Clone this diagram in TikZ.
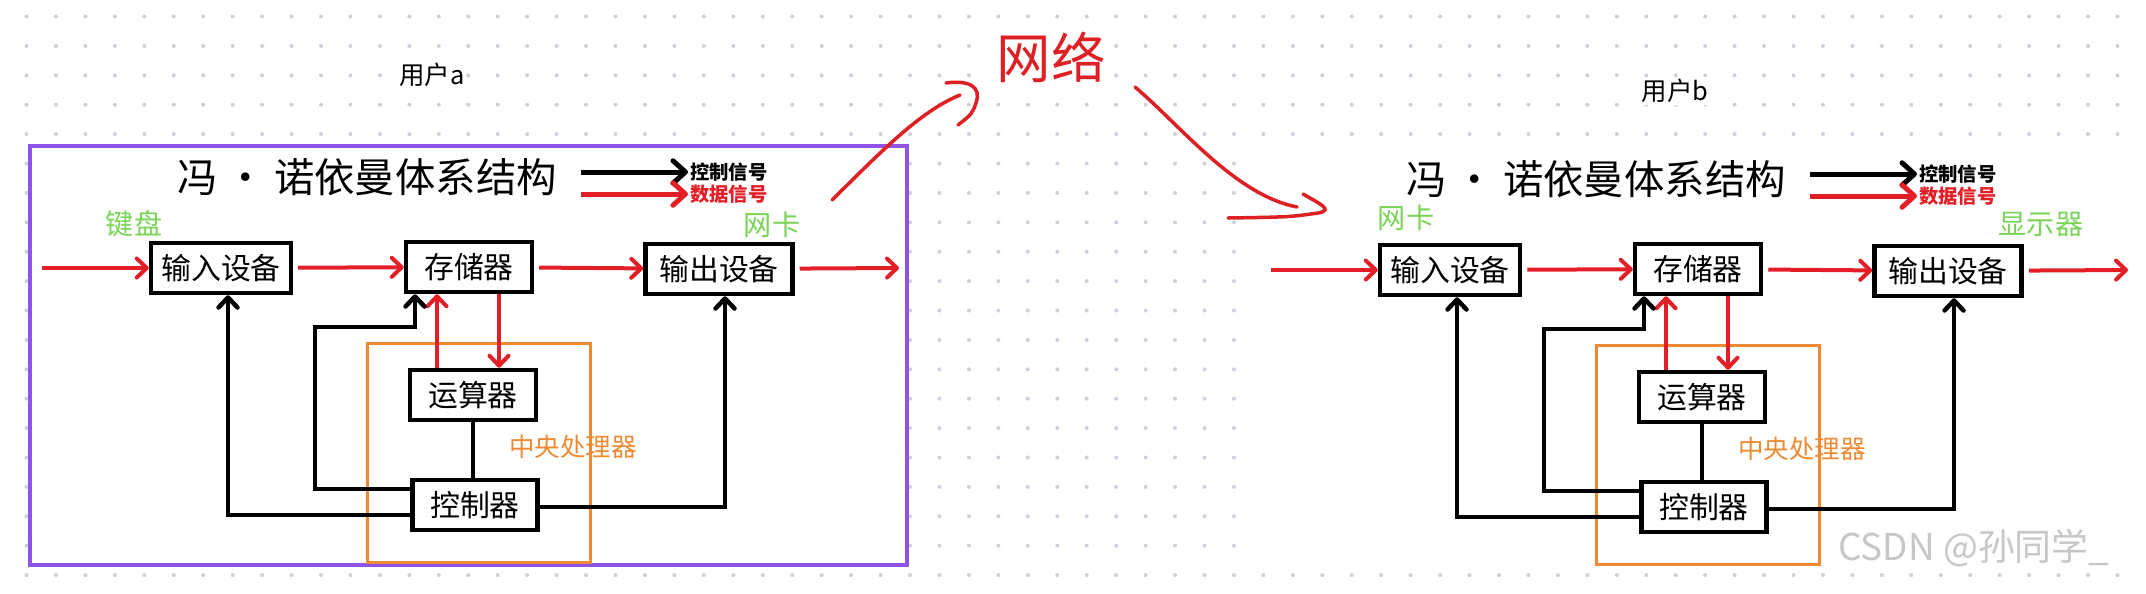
\documentclass[tikz,border=0pt]{standalone}
\usepackage{fontspec}
\setmainfont{Noto Sans CJK SC}
\usetikzlibrary{arrows.meta,positioning}

\definecolor{datared}{RGB}{228,30,38}
\definecolor{inkred}{RGB}{222,32,36}
\definecolor{pengreen}{RGB}{122,212,88}
\definecolor{cpuorange}{RGB}{240,138,50}
\definecolor{framepurple}{RGB}{142,84,233}
\definecolor{dotgray}{RGB}{204,208,218}

\tikzset{
  vn/unit/.style={draw, line width=0.09cm, minimum height=1cm, inner sep=0pt, fill=white, font=\fontsize{17pt}{17pt}\selectfont},
  vn/title/.style={inner sep=0pt, font=\fontsize{23pt}{23pt}\selectfont},
  vn/legend/.style={inner sep=1pt, font=\bfseries\fontsize{11pt}{11pt}\selectfont},
  vn/data/.style={draw=datared, line width=0.08cm, shorten <=0.1cm, -{Straight Barb[length=0.2cm, width=0.38cm, round]}},
  vn/ctrl/.style={draw=black, line width=0.09cm, -{Straight Barb[length=0.2cm, width=0.38cm, round]}},
  vn/legarrow/.style={line width=0.1cm, shorten <=0pt, -{Straight Barb[length=0.25cm, width=0.45cm, round]}},
  vn/link/.style={draw=black, line width=0.09cm},
  vn/cpu/.style={draw=cpuorange, line width=0.06cm},
  vn/cpulabel/.style={text=cpuorange, inner sep=0pt, font=\fontsize{14.5pt}{14.5pt}\selectfont},
  vn/frame/.style={draw=framepurple, line width=0.07cm},
  vn/device/.style={text=pengreen, inner sep=0pt, font=\fontsize{16pt}{16pt}\selectfont},
  vn/user/.style={fill=white, inner sep=1pt, font=\fontsize{14.5pt}{14.5pt}\selectfont},
  vn/net/.style={text=inkred, fill=white, inner sep=1pt, font=\fontsize{31pt}{31pt}\selectfont},
  vn/pen/.style={draw=inkred, line width=0.07cm, line cap=round},
  vn/wmark/.style={text=black!22, inner sep=0pt, font=\fontsize{21pt}{21pt}\selectfont}
}

\begin{document}
\begin{tikzpicture}[x=0.02cm, y=-0.02cm]
  \useasboundingbox (0,0) rectangle (2146,593);

  % dotted canvas, blanked where the two pasted diagrams sit
  \foreach \i in {0,...,71}
    \foreach \j in {0,...,19}
      \fill[dotgray] (26.5+29.45*\i, 16.5+29.4*\j) circle (0.04cm);
  \fill[white] (29,139) rectangle (908,572);
  \fill[white] (1245,139) rectangle (2146,572);

  \draw[vn/frame] (30,146) rectangle (907,565);

  \foreach \u/\dx/\dy in {a/0/0, b/1229/2} {
    \begin{scope}[shift={(\dx,\dy)}]
      \node[vn/title] (title-\u) at (367,177) {冯\hspace{0.2em}·\hspace{0.2em}诺依曼体系结构};

      % legend
      \coordinate (lc-\u) at (581,172);
      \coordinate (ld-\u) at (581,194);
      \node[vn/legend, right=2.14cm of lc-\u] (lct-\u) {控制信号};
      \node[vn/legend, text=datared, right=2.14cm of ld-\u] (ldt-\u) {数据信号};
      \draw[vn/ctrl, vn/legarrow] (lc-\u) -- (lct-\u);
      \draw[vn/data, vn/legarrow] (ld-\u) -- (ldt-\u);

      \draw[vn/cpu] (367,343) rectangle (590,562);
      \node[vn/cpulabel] (cpu-\u) at (573,447) {中央处理器};

      \node[vn/unit, minimum width=2.8cm] (in-\u) at (221,268) {输入设备};
      \node[vn/unit, minimum width=2.52cm] (mem-\u) at (469,267) {存储器};
      \node[vn/unit, minimum width=2.94cm] (out-\u) at (719,269) {输出设备};
      \node[vn/unit, minimum width=2.52cm] (alu-\u) at (473,395) {运算器};
      \node[vn/unit, minimum width=2.5cm] (cu-\u) at (475,505) {控制器};

      % data path
      \coordinate (src-\u) at (37,268);
      \coordinate (snk-\u) at (899,268);
      \draw[vn/data] (src-\u) -- (in-\u);
      \draw[vn/data] (in-\u) -- (mem-\u);
      \draw[vn/data] (mem-\u) -- (out-\u);
      \draw[vn/data] (out-\u) -- (snk-\u);
      \draw[vn/data, shorten <=0pt] (alu-\u.north -| 437,0) -- (mem-\u.south -| 437,0);
      \draw[vn/data, shorten <=0pt] (mem-\u.south -| 499,0) -- (alu-\u.north -| 499,0);

      % control path
      \draw[vn/ctrl] (cu-\u.west |- 0,515) -| (in-\u.south -| 228,0);
      \draw[vn/ctrl] (cu-\u.west |- 0,489) -| (315,327) -| (mem-\u.south -| 415,0);
      \draw[vn/ctrl] (cu-\u.east |- 0,507) -| (out-\u.south -| 725,0);
      \draw[vn/link] (alu-\u.south) -- (alu-\u.south |- cu-\u.north);
    \end{scope}
  }

  \node[vn/user] (user-a) at (432,75) {用户a};
  \node[vn/user] (user-b) at (1675,91) {用户b};
  \node[vn/device] (kbd-a) at (134,224) {键盘};
  \node[vn/device] (nic-a) at (772,225) {网卡};
  \node[vn/device] (nic-b) at (1406,218) {网卡};
  \node[vn/device] (mon-b) at (2041,224) {显示器};

  % hand-drawn strokes through the network
  \node[vn/net] (net) at (1051,57) {网络};
  \coordinate (send-a) at (832,200);
  \coordinate (send-tip) at (960,95);
  \coordinate (recv-b) at (1135,87);
  \coordinate (recv-tip) at (1297,207);
  \draw[vn/pen] (send-a) .. controls (875,158) and (918,112) .. (send-tip);
  \draw[vn/pen] (946,83) .. controls (968,80) and (982,86) .. (976,103)
    .. controls (972,114) .. (958,125);
  \draw[vn/pen] (recv-b) .. controls (1180,125) and (1235,195) .. (recv-tip);
  \draw[vn/pen] (1303,194) .. controls (1318,203) and (1335,210) .. (1318,213)
    .. controls (1290,217) .. (1228,218);

  \node[vn/wmark, anchor=west] (csdn) at (1838,548) {CSDN @孙同学\_};
\end{tikzpicture}
\end{document}
